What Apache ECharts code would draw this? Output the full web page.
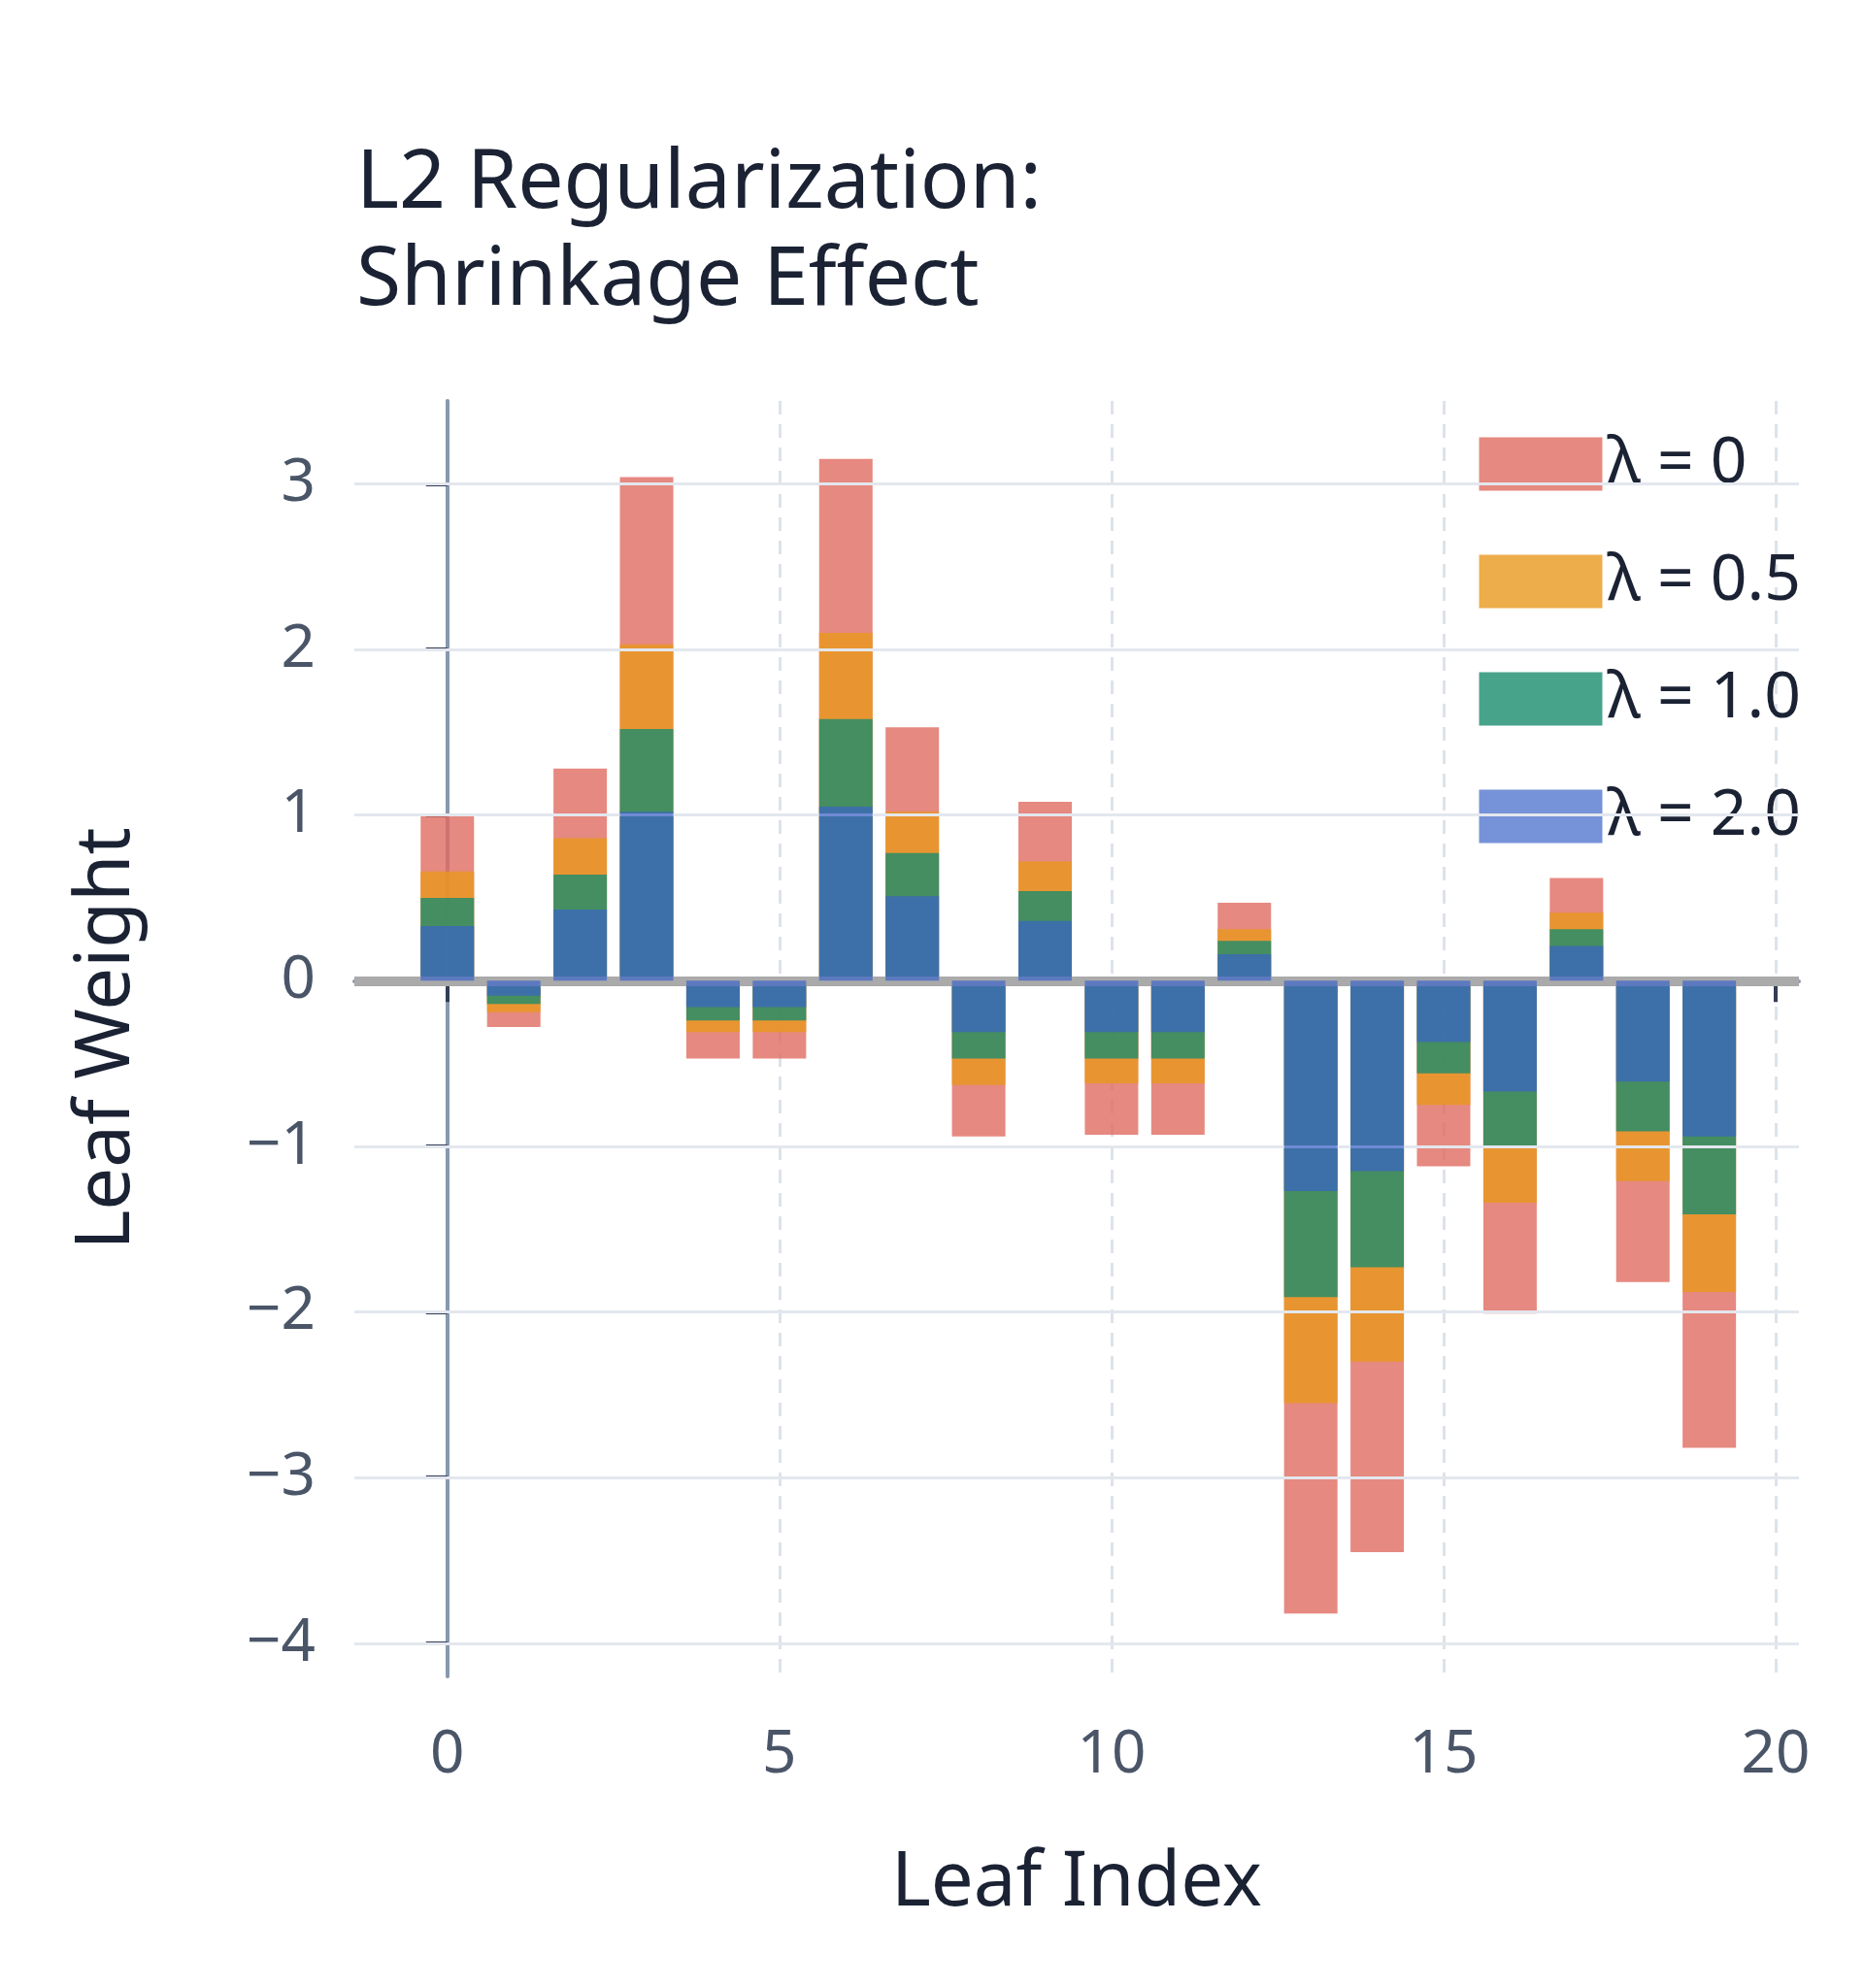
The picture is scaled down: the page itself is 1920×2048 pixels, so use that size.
<!DOCTYPE html><html><head><meta charset="utf-8"><script src="https://cdn.jsdelivr.net/npm/echarts@6/dist/echarts.min.js"></script>
<style>body{margin:0;background:#fff}#c{width:1920px;height:2048px}</style></head><body><div id="c"></div><script>
const leaves=[0,1,2,3,4,5,6,7,8,9,10,11,12,13,14,15,16,17,18,19];
const w0=[1.0,-0.28,1.28,3.04,-0.47,-0.47,3.15,1.53,-0.94,1.08,-0.93,-0.93,0.47,-3.82,-3.45,-1.12,-2.01,0.62,-1.82,-2.82];
const w05=[0.66,-0.19,0.86,2.03,-0.31,-0.31,2.10,1.02,-0.63,0.72,-0.62,-0.62,0.31,-2.55,-2.30,-0.75,-1.34,0.41,-1.21,-1.88];
const w1=[0.50,-0.14,0.64,1.52,-0.24,-0.24,1.58,0.77,-0.47,0.54,-0.47,-0.47,0.24,-1.91,-1.73,-0.56,-1.00,0.31,-0.91,-1.41];
const w2=[0.33,-0.09,0.43,1.02,-0.16,-0.16,1.05,0.51,-0.31,0.36,-0.31,-0.31,0.16,-1.27,-1.15,-0.37,-0.67,0.21,-0.61,-0.94];
const names=['λ = 0','λ = 0.5','λ = 1.0','λ = 2.0'];
const colors=['rgba(224,108,96,0.8)','rgba(232,152,30,0.8)','rgba(26,140,110,0.8)','rgba(60,100,200,0.7)'];
const F='Noto Sans';
const chart=echarts.init(document.getElementById('c'));
const mk=(vals,i)=>({type:'bar',name:names[i],data:leaves.map((x,k)=>[x,vals[k]]),barWidth:55,barGap:'-100%',
 itemStyle:{color:colors[i]},z:2+i,
 markLine:i===0?{symbol:'none',silent:true,label:{show:false},lineStyle:{color:'#aaaaaa',width:10,type:'solid'},data:[{yAxis:0}]}:undefined});
chart.setOption({
 animation:false,
 title:{text:'L2 Regularization:\nShrinkage Effect',left:362,top:135,textStyle:{fontFamily:F,fontSize:84,fontWeight:'normal',color:'#1a2233',lineHeight:100}},
 legend:{right:60,top:440,orient:'vertical',itemWidth:127,itemHeight:55,itemGap:55,icon:'rect',
  textStyle:{fontFamily:F,fontSize:66,color:'#1a2233'},data:names},
 grid:{left:365,right:67,top:413,bottom:321},
 xAxis:{type:'value',min:-1.4,max:20.35,interval:5,
  axisLine:{lineStyle:{color:'#8898b0',width:4}},axisTick:{show:true,length:22,lineStyle:{color:'#333d55',width:4}},
  axisLabel:{fontFamily:F,fontSize:62,color:'#4a5568',margin:50,customValues:[0,5,10,15,20]},
  axisTick:{customValues:[0,5,10,15,20],length:22,lineStyle:{color:'#333d55',width:4}},
  splitLine:{show:true,lineStyle:{color:'#dde2ea',type:[14,10],width:3}},
  name:'Leaf Index',nameLocation:'middle',nameGap:175,nameTextStyle:{fontFamily:F,fontSize:78,color:'#1a2233'}},
 yAxis:{type:'value',min:-4.2,max:3.5,
  axisLine:{show:true,lineStyle:{color:'#8898b0',width:4}},
  axisTick:{show:true,length:22,customValues:[-4,-3,-2,-1,0,1,2,3],lineStyle:{color:'#333d55',width:4}},
  axisLabel:{fontFamily:F,fontSize:62,color:'#4a5568',margin:40,customValues:[-4,-3,-2,-1,0,1,2,3],formatter:v=>String(v).replace('-','−')},
  splitLine:{show:false},
  name:'Leaf Weight',nameLocation:'middle',nameGap:215,nameTextStyle:{fontFamily:F,fontSize:78,color:'#1a2233'}},
 series:[
  {type:'line',data:[],markLine:{symbol:'none',silent:true,label:{show:false},lineStyle:{color:'#e3e7ee',width:3,type:'solid'},data:[-4,-3,-2,-1,1,2,3].map(v=>({yAxis:v}))}},
  mk(w0,0),mk(w05,1),mk(w1,2),mk(w2,3)]
});
</script></body></html>
